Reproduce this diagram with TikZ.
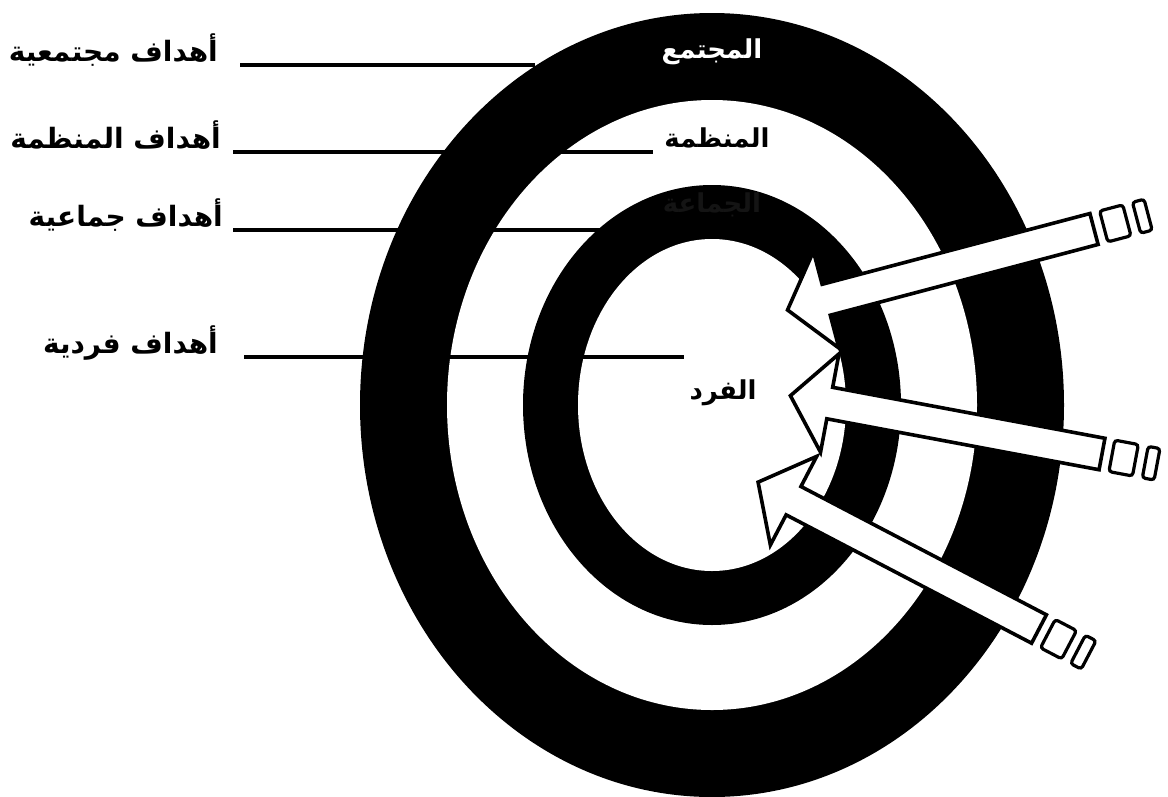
\documentclass[tikz,border=0pt]{standalone}
\usepackage{fontspec}
\newfontfamily\arabicfont[Script=Arabic]{DejaVu Sans}
\TeXXeTstate=1
\usetikzlibrary{calc}

\newcommand{\artxt}[1]{{\arabicfont\bfseries\beginR #1\endR}}

%% block arrow pointing into the target: tail x, tail y, angle
\newcommand{\goalarrow}[3]{%
  \begin{scope}[shift={(#1,#2)}, rotate=#3]
    \draw[shaft] (0,-16) -- (277,-16) -- (277,-50) -- (317,0)
                 -- (277,50) -- (277,16) -- (0,16) -- cycle;
    \draw[feather] (-10,-16) rectangle (-34,16);
    \draw[feather] (-44,-16) rectangle (-56,16);
  \end{scope}}

\begin{document}
\begin{tikzpicture}[
    x=1pt, y=-1pt,
    ringfill/.style = {fill=black},
    gapfill/.style  = {fill=white},
    goallbl/.style  = {font=\fontsize{28}{32}\selectfont, text=black,
                       anchor=base east, inner sep=0pt},
    ringlbl/.style  = {font=\fontsize{26}{30}\selectfont, inner sep=0pt},
    leader/.style   = {line width=3.2pt, draw=black},
    shaft/.style    = {draw=black, fill=white, line width=3.6pt},
    feather/.style  = {draw=black, fill=white, line width=3.2pt,
                       rounded corners=3pt},
]

\useasboundingbox (0,0) rectangle (1168,796);
\fill[white] (0,0) rectangle (1168,796);

%% ============================================================
%% CENTRE
%% ============================================================
\def\cx{712}
\def\cy{405}

%% ============================================================
%% RINGS
%% ============================================================
\fill[ringfill] (\cx,\cy) ellipse [x radius=352, y radius=392];
\fill[gapfill]  (\cx,\cy) ellipse [x radius=265, y radius=305];
\fill[ringfill] (\cx,\cy) ellipse [x radius=189, y radius=220];
\fill[gapfill]  (\cx,\cy) ellipse [x radius=134, y radius=166];

%% ============================================================
%% RING LABELS
%% ============================================================
\node[ringlbl, text=white]    (society) at (712,52)  {\artxt{المجتمع}};
\node[ringlbl, text=black]    (org)     at (717,138) {\artxt{المنظمة}};
\node[ringlbl, text=black!92] (group)   at (712,205) {\artxt{الجماعة}};
\node[ringlbl, text=black]    (person)  at (723,393) {\artxt{الفرد}};

%% ============================================================
%% GOAL LABELS AND LEADERS
%% ============================================================
\node[goallbl] (goalSoc) at (218,61)  {\artxt{أهداف مجتمعية}};
\node[goallbl] (goalOrg) at (221,148) {\artxt{أهداف المنظمة}};
\node[goallbl] (goalGrp) at (223,226) {\artxt{أهداف جماعية}};
\node[goallbl] (goalInd) at (218,353) {\artxt{أهداف فردية}};

\coordinate (endSoc) at (535,65);
\coordinate (endOrg) at (653,152);
\coordinate (endGrp) at (644,230);
\coordinate (endInd) at (684,357);

\draw[leader] (goalSoc.base east) ++(22,4) -- (endSoc);
\draw[leader] (goalOrg.base east) ++(12,4) -- (endOrg);
\draw[leader] (goalGrp.base east) ++(10,4) -- (endGrp);
\draw[leader] (goalInd.base east) ++(26,4) -- (endInd);

%% ============================================================
%% ARROWS
%% ============================================================
\goalarrow{1094}{229}{194.8}
\goalarrow{1102}{454}{169.4}
\goalarrow{1039}{629}{152.4}

\end{tikzpicture}
\end{document}
